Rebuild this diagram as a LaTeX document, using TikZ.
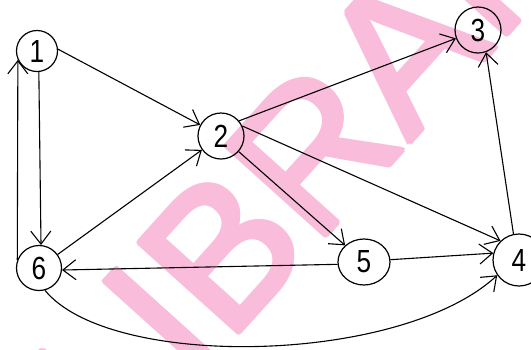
\documentclass[tikz,border=0pt]{standalone}
\usepackage{fontspec}
\setmainfont{Liberation Sans}
\usetikzlibrary{arrows.meta,shapes.geometric}
\definecolor{wmpink}{RGB}{249,189,219}
\newcommand\dg[1]{\scalebox{0.82}[1]{#1}}
\tikzset{
  vtx/.style={circle,draw,line width=1.2pt,inner sep=0pt,minimum size=#1,font=\fontsize{32}{32}\selectfont},
  ovtx/.style={ellipse,draw,line width=1.2pt,inner sep=0pt,minimum width=52pt,minimum height=46pt,font=\fontsize{32}{32}\selectfont},
  edge/.style={line width=1.1pt,-{Straight Barb[length=13pt,width=20pt]}},
  wmark/.style={rotate=48,text=wmpink,inner sep=0pt,font=\fontsize{195}{195}\selectfont}
}
\begin{document}
\begin{tikzpicture}[x=1pt,y=-1pt]
\useasboundingbox (0,0) rectangle (531,349);
\clip (0,0) rectangle (531,349);
\fill[white] (0,0) rectangle (531,349);
\foreach \dx/\dy in {0/0,-2.5/0,2.5/0,0/-2.5,0/2.5,-1.8/-1.8,1.8/1.8,-1.8/1.8,1.8/-1.8}{
  \node[wmark,anchor=base west] (wmI) at (192+\dx,385+\dy) {IBRARY};
  \node[wmark,anchor=base east] (wmL) at (wmI.base west) {L};
}
\node[vtx=41pt] (n1) at (37,51) {\dg{1}};
\node[vtx=46pt] (n2) at (221,136) {\dg{2}};
\node[vtx=46pt] (n3) at (478,30) {\dg{3}};
\node[vtx=52pt] (n4) at (519,260) {\dg{4}};
\node[ovtx] (n5) at (364,262) {\dg{5}};
\node[vtx=45pt] (n6) at (39,268) {\dg{6}};
\draw[edge] (n1.5) -- (n2);
\draw[edge] (n6.160) -- (n1.205);
\draw[edge] (n1.-85) -- (n6.85);
\draw[edge] (n6) -- (n2);
\draw[edge] (n2.40) -- (n3);
\draw[edge] (n2.25) -- (n4.134);
\draw[edge] (n2) -- (n5);
\draw[edge] (n5.185) -- (n6.-5);
\draw[edge] (n5.5) -- (n4.165);
\draw[edge] (n4.102) -- (n3.-70);
\draw[edge] (n6.-75) .. controls (110,370) and (400,365) .. (n4.215);
\end{tikzpicture}
\end{document}
